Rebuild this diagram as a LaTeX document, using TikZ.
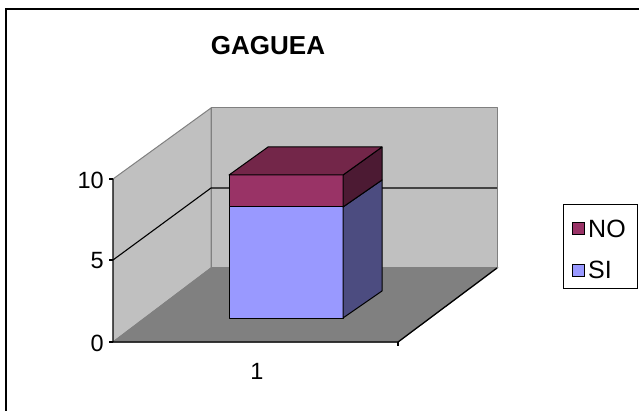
\documentclass[tikz,border=0pt]{standalone}
\usepackage{fontspec}
\setmainfont{Liberation Sans}
\definecolor{wallc}{HTML}{C0C0C0}
\definecolor{floorc}{HTML}{808080}
\definecolor{edgec}{HTML}{808080}
\definecolor{sifront}{HTML}{9999FF}
\definecolor{siside}{HTML}{4C4C80}
\definecolor{nofront}{HTML}{993366}
\definecolor{notop}{HTML}{732649}
\definecolor{noside}{HTML}{4C1A33}
\begin{document}
\begin{tikzpicture}[x=1pt,y=-1pt,
  wall/.style={fill=wallc,draw=edgec,line width=1pt,line join=round},
  floorstyle/.style={fill=floorc,draw=edgec,line width=1pt},
  axisline/.style={draw=black,line width=1.3pt},
  barface/.style={draw=black,line width=1pt,line join=round},
  ticklabel/.style={font=\fontsize{23.5}{23.5}\selectfont,anchor=east,inner sep=0pt},
  legtext/.style={font=\fontsize{25}{25}\selectfont,anchor=west,inner sep=0pt}]
\useasboundingbox (0,0) rectangle (639,411);
% outer frame (cut by page edges)
\draw[line width=2pt] (6,9.5) rectangle (650,425);
% title
\node[font=\bfseries\fontsize{26}{26}\selectfont] (title) at (268,46) {GAGUEA};
% walls and floor
\fill[wallc] (113,179) -- (211,108) -- (211,268) -- (113,342) -- cycle;
\draw[edgec,line width=1pt] (113,179) -- (211,108) -- (211,268) -- (113,342);
\draw[wall] (211,108) rectangle (497,268);
\draw[floorstyle] (113,342) -- (211,268) -- (497,268) -- (398,342) -- cycle;
% gridline at 5
\draw[line width=1.1pt] (113,260) -- (211,188) -- (497,188);
% axes
\draw[axisline] (113,179) -- (113,342) -- (398,342) -- (497,268);
\draw[axisline] (109,179) -- (113,179);
\draw[axisline] (109,260) -- (113,260);
\draw[axisline] (109,342) -- (113,342);
\draw[axisline] (398,342) -- (398,346);
% tick labels
\node[ticklabel] (t10) at (104,180) {10};
\node[ticklabel] (t5) at (104,261) {5};
\node[ticklabel] (t0) at (104,343) {0};
\node[font=\fontsize{23.5}{23.5}\selectfont,inner sep=0pt] (x1) at (257,371) {1};
% bar
\draw[barface,fill=sifront] (229,207) rectangle (343,318);
\draw[barface,fill=siside] (343,207) -- (382,180) -- (382,291) -- (343,318) -- cycle;
\draw[barface,fill=nofront] (229,175) rectangle (343,207);
\draw[barface,fill=noside] (343,175) -- (382,147) -- (382,180) -- (343,207) -- cycle;
\draw[barface,fill=notop] (229,175) -- (268,147) -- (382,147) -- (343,175) -- cycle;
% legend
\draw[line width=1pt] (563,205) rectangle (637.5,289);
\draw[line width=0.8pt,fill=nofront] (572,222) rectangle (584,234);
\draw[line width=0.8pt,fill=sifront] (572,264) rectangle (584,276);
\node[legtext] (lno) at (588,229) {NO};
\node[legtext] (lsi) at (588,270) {SI};
\end{tikzpicture}
\end{document}
